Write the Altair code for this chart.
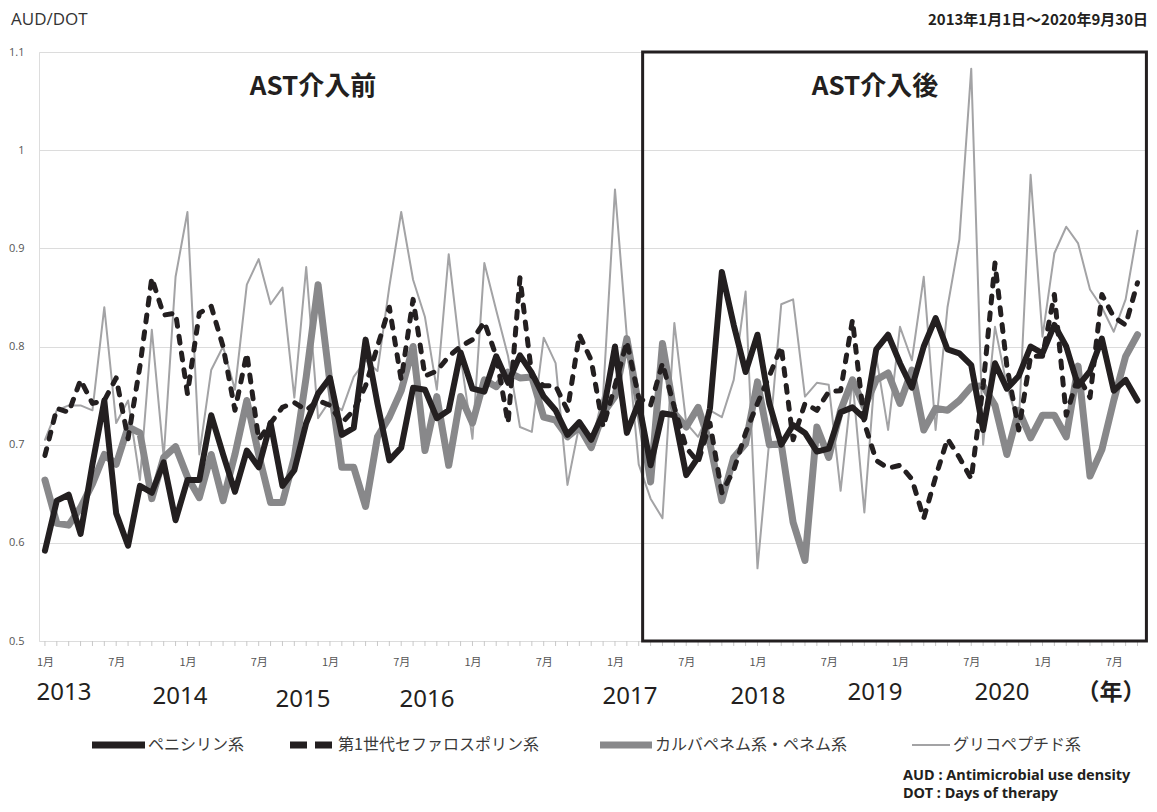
import altair as alt
import pandas as pd

# ---------------- data (monthly, Jan 2013 .. Sep 2020) ----------------
months = list(range(93))

penicillin = [
    0.592, 0.643, 0.649, 0.609, 0.680, 0.745, 0.630, 0.597, 0.658, 0.651, 0.682, 0.623,
    0.664, 0.664, 0.730, 0.690, 0.652, 0.694, 0.677, 0.722, 0.658, 0.674, 0.722, 0.752,
    0.768, 0.710, 0.717, 0.807, 0.742, 0.684, 0.697, 0.758, 0.756, 0.727, 0.735, 0.794,
    0.757, 0.754, 0.790, 0.763, 0.791, 0.773, 0.749, 0.735, 0.710, 0.723, 0.705, 0.732,
    0.800, 0.712, 0.743, 0.679, 0.732, 0.730, 0.669, 0.687, 0.737, 0.876, 0.822, 0.774,
    0.812, 0.742, 0.700, 0.720, 0.712, 0.693, 0.696, 0.733, 0.738, 0.727, 0.797, 0.812,
    0.783, 0.758, 0.800, 0.829, 0.797, 0.793, 0.781, 0.715, 0.783, 0.757, 0.770, 0.800,
    0.793, 0.822, 0.800, 0.760, 0.775, 0.808, 0.755, 0.766, 0.745,
]

cephalosporin = [
    0.689, 0.737, 0.733, 0.766, 0.742, 0.745, 0.768, 0.706, 0.780, 0.870, 0.832, 0.834,
    0.752, 0.834, 0.841, 0.800, 0.735, 0.793, 0.705, 0.722, 0.738, 0.743, 0.735, 0.745,
    0.740, 0.722, 0.735, 0.760, 0.800, 0.840, 0.766, 0.848, 0.770, 0.775, 0.790, 0.800,
    0.807, 0.825, 0.790, 0.722, 0.870, 0.770, 0.760, 0.760, 0.735, 0.812, 0.786, 0.718,
    0.760, 0.805, 0.748, 0.740, 0.783, 0.738, 0.697, 0.682, 0.722, 0.651, 0.674, 0.712,
    0.742, 0.770, 0.800, 0.705, 0.742, 0.735, 0.754, 0.755, 0.827, 0.722, 0.684, 0.676,
    0.679, 0.665, 0.625, 0.667, 0.706, 0.687, 0.665, 0.760, 0.885, 0.780, 0.715, 0.790,
    0.790, 0.853, 0.730, 0.770, 0.748, 0.853, 0.830, 0.822, 0.865,
]

carbapenem = [
    0.664, 0.620, 0.618, 0.636, 0.660, 0.690, 0.680, 0.718, 0.712, 0.645, 0.687, 0.698,
    0.667, 0.646, 0.690, 0.643, 0.690, 0.745, 0.690, 0.641, 0.641, 0.687, 0.769, 0.863,
    0.763, 0.677, 0.677, 0.637, 0.708, 0.728, 0.755, 0.800, 0.694, 0.749, 0.679, 0.749,
    0.722, 0.766, 0.759, 0.774, 0.768, 0.769, 0.728, 0.725, 0.708, 0.718, 0.697, 0.732,
    0.749, 0.808, 0.740, 0.662, 0.803, 0.732, 0.718, 0.738, 0.701, 0.643, 0.687, 0.701,
    0.764, 0.700, 0.701, 0.621, 0.582, 0.718, 0.687, 0.735, 0.766, 0.738, 0.766, 0.773,
    0.742, 0.776, 0.715, 0.737, 0.735, 0.745, 0.759, 0.760, 0.740, 0.690, 0.735, 0.707,
    0.730, 0.730, 0.708, 0.780, 0.668, 0.695, 0.745, 0.790, 0.812,
]

glycopeptide = [
    0.705, 0.735, 0.740, 0.740, 0.735, 0.840, 0.722, 0.745, 0.664, 0.817, 0.687, 0.871,
    0.937, 0.690, 0.776, 0.800, 0.756, 0.863, 0.889, 0.843, 0.860, 0.748, 0.881, 0.727,
    0.745, 0.735, 0.769, 0.786, 0.775, 0.861, 0.937, 0.868, 0.830, 0.756, 0.894, 0.790,
    0.706, 0.885, 0.837, 0.790, 0.718, 0.713, 0.809, 0.783, 0.659, 0.720, 0.700, 0.750,
    0.960, 0.810, 0.680, 0.645, 0.625, 0.824, 0.722, 0.708, 0.735, 0.728, 0.766, 0.856,
    0.574, 0.705, 0.843, 0.848, 0.749, 0.763, 0.761, 0.653, 0.766, 0.631, 0.790, 0.715,
    0.820, 0.786, 0.871, 0.715, 0.840, 0.909, 1.083, 0.700, 0.820, 0.760, 0.720, 0.975,
    0.810, 0.895, 0.922, 0.905, 0.858, 0.840, 0.815, 0.848, 0.918,
]

series_names = ["ペニシリン系", "第1世代セファロスポリン系", "カルバペネム系・ペネム系", "グリコペプチド系"]
series_values = [penicillin, cephalosporin, carbapenem, glycopeptide]
series_colors = ["#231f20", "#231f20", "#88888a", "#a3a3a5"]
series_widths = [6, 5, 7, 2]
series_dashes = [None, [7, 10], None, None]
legend_dashes = [None, [17, 8], None, None]
draw_order = [3, 2, 1, 0]

y_ticks = [0.5, 0.6, 0.7, 0.8, 0.9, 1.0, 1.1]
label_months = list(range(0, 93, 6))
year_labels = ["2013", "2014", "2015", "2016", "2017", "2018", "2019", "2020"]
ast_period = [50.33, 92.75]

JP = "Noto Sans CJK JP"
LAT = "Open Sans"

xscale = alt.Scale(domain=[-0.5, 92.8], nice=False, zero=False)
yscale = alt.Scale(domain=[0.5, 1.1], nice=False, zero=False)

x_axis = alt.Axis(
    values=label_months,
    labelExpr="datum.value % 12 == 0 ? '1月' : '7月'",
    grid=False, domain=False, ticks=False,
    labelPadding=15, labelFontSize=11, labelColor="#555555", labelFont=JP,
    labelOverlap=False, labelFlush=False, title=None,
)
y_axis = alt.Axis(
    values=y_ticks,
    labelExpr="datum.value == 1 ? '1' : format(datum.value, '.1f')",
    grid=True, gridColor="#dcdcdc", gridWidth=1, domain=False, ticks=False,
    labelPadding=15, labelFontSize=11, labelColor="#555555", labelFont=LAT, title=None,
)

# month tick marks along the baseline
ticks = alt.Chart(pd.DataFrame({"m": months})).mark_rule(color="#c8c8c8", strokeWidth=1).encode(
    x=alt.X("m:Q", scale=xscale, axis=x_axis),
    y=alt.value(589), y2=alt.value(594),
)

layers = [ticks]
for k in draw_order:
    sdf = pd.DataFrame({"m": months, "v": series_values[k]})
    kw = dict(color=series_colors[k], strokeWidth=series_widths[k], strokeCap="round", strokeJoin="round")
    if series_dashes[k] is not None:
        kw["strokeDash"] = series_dashes[k]
    layers.append(
        alt.Chart(sdf).mark_line(**kw).encode(
            x=alt.X("m:Q", scale=xscale, axis=x_axis),
            y=alt.Y("v:Q", scale=yscale, axis=y_axis),
        )
    )

box = alt.Chart(pd.DataFrame({"x": [ast_period[0]], "x2": [ast_period[1]], "y": [0.5], "y2": [1.1]})).mark_rect(
    fillOpacity=0, stroke="#231f20", strokeWidth=3
).encode(
    x=alt.X("x:Q", scale=xscale, axis=x_axis), x2="x2",
    y=alt.Y("y:Q", scale=yscale, axis=y_axis), y2="y2",
)
layers.append(box)


def label(text, px, py, size, weight="normal", align="center", font=JP, color="#231f20"):
    return alt.Chart(pd.DataFrame({"t": [text]})).mark_text(
        fontSize=size, fontWeight=weight, align=align, baseline="middle", font=font, color=color
    ).encode(x=alt.value(px), y=alt.value(py), text="t:N")


# legend (manual): sample line + label for each series
legend_x = [(53, 106), (251, 296), (561, 613), (873, 911)]
legend_y = 693
for k, (x0, x1) in enumerate(legend_x):
    kw = dict(color=series_colors[k], strokeWidth=7 if series_widths[k] > 3 else 2)
    if legend_dashes[k] is not None:
        kw["strokeDash"] = legend_dashes[k]
    layers.append(
        alt.Chart(pd.DataFrame({"s": [series_names[k]]})).mark_rule(**kw).encode(
            x=alt.value(x0), x2=alt.value(x1), y=alt.value(legend_y)
        )
    )
    layers.append(label(series_names[k], x1 + 3, legend_y, 16, align="left", color="#3a3a3a"))

layers += [
    label("AUD/DOT", -28, -32, 17, font=LAT, align="left", color="#333333"),
    label("2013年1月1日～2020年9月30日", 1109, -32, 15, weight="bold", align="right"),
    label("AST介入前", 274, 35, 26, weight="bold"),
    label("AST介入後", 836, 35, 26, weight="bold"),
    label("（年）", 1072, 641, 23, weight="bold"),
    label("AUD : Antimicrobial use density", 864, 724, 14.5, weight="bold", align="left", font="Noto Sans"),
    label("DOT : Days of therapy", 864, 742, 14.5, weight="bold", align="left", font="Noto Sans"),
]
year_x = [25, 141, 264, 388, 591, 719, 836, 963]
year_y = [641, 645, 648, 648, 645, 645, 641, 641]
for t, px, py in zip(year_labels, year_x, year_y):
    layers.append(label(t, px, py, 24, font="Noto Sans", color="#231f20"))

chart = alt.layer(*layers).properties(
    width=1108, height=589,
    padding={"left": 31, "top": 44, "right": 2, "bottom": 163},
    autosize=alt.AutoSizeParams(type="none"),
).configure_view(stroke=None).configure(background="white")

chart.save("out.html", embed_options={"renderer": "svg", "actions": False})
